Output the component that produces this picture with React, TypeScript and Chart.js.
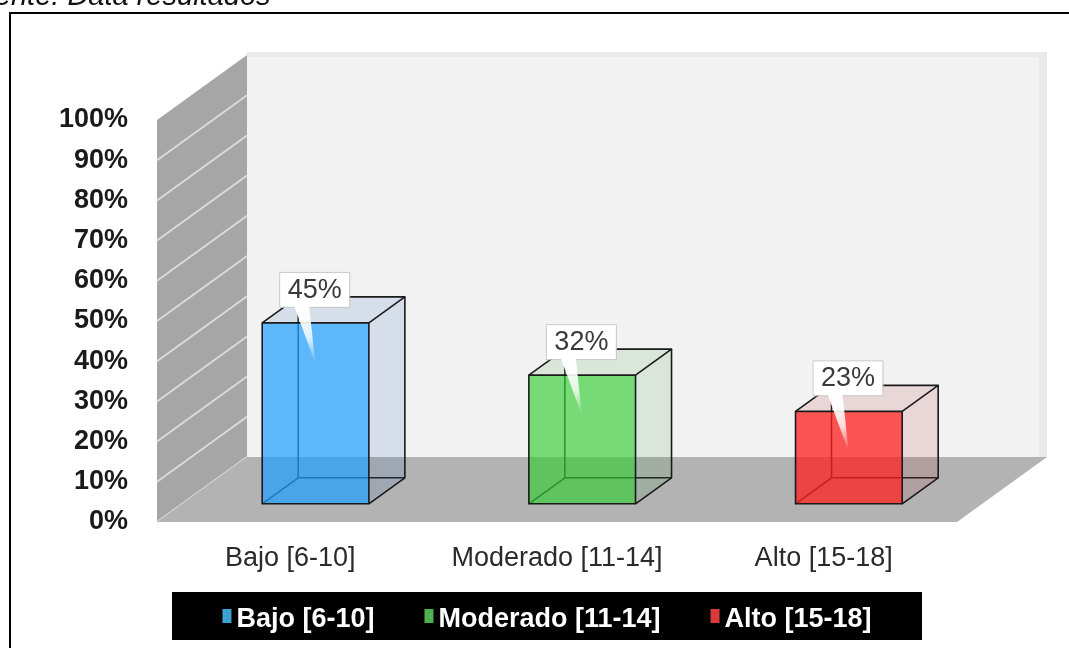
import React, { useEffect, useRef } from "react";
import { Chart, registerables } from "chart.js";

Chart.register(...registerables);

// ---------- data ----------
const categories = ["Bajo [6-10]", "Moderado [11-14]", "Alto [15-18]"];
const values = [45, 32, 23];
const valueLabels = ["45%", "32%", "23%"];
const yMin = 0;
const yMax = 100;
const yStep = 10;
const tickSuffix = "%";
const sourceNote = "Fuente: Data resultados";

// ---------- styles ----------
const frontColors = ["rgba(30,160,255,0.7)", "rgba(50,205,50,0.65)", "rgba(255,30,30,0.75)"];
const sideColors = ["rgba(30,100,180,0.13)", "rgba(40,140,40,0.11)", "rgba(180,40,40,0.13)"];
const legendColors = ["#3aa6cf", "#4caf50", "#d63a3a"];
const FONT = "'Liberation Sans', Arial, sans-serif";

const DEPTH_DX = 90;
const DEPTH_DY = -65;
const BAR_F1 = 0.28;
const BAR_F2 = 0.68;

const threeDPlugin = {
  id: "threeD",
  beforeDraw(chart: any) {
    const ctx = chart.ctx;
    const ca = chart.chartArea;
    const ys = chart.scales.y;
    ctx.save();
    ctx.fillStyle = "#ffffff";
    ctx.fillRect(0, 0, chart.width, chart.height);
    // source note
    ctx.fillStyle = "#111";
    ctx.font = `italic 29px ${FONT}`;
    ctx.textBaseline = "alphabetic";
    ctx.textAlign = "left";
    ctx.fillText(sourceNote, -39, 5);
    // frame
    ctx.strokeStyle = "#000";
    ctx.lineWidth = 2;
    ctx.beginPath();
    ctx.moveTo(10, chart.height + 5);
    ctx.lineTo(10, 13);
    ctx.lineTo(chart.width + 5, 13);
    ctx.stroke();

    const L = ca.left, R = ca.right, T = ca.top, B = ca.bottom;
    const dx = DEPTH_DX, dy = DEPTH_DY;
    // back wall
    ctx.fillStyle = "#f2f2f2";
    ctx.fillRect(L + dx, T + dy - 3, R - L, B - T + 3);
    ctx.fillStyle = "#eaeaea";
    ctx.fillRect(L + dx, T + dy - 3, R - L, 5);
    ctx.fillRect(R + dx - 8, T + dy - 3, 8, B - T + 3);
    // left wall
    ctx.fillStyle = "#a6a6a6";
    ctx.beginPath();
    ctx.moveTo(L, B);
    ctx.lineTo(L, T);
    ctx.lineTo(L + dx, T + dy);
    ctx.lineTo(L + dx, B + dy);
    ctx.closePath();
    ctx.fill();
    // wall gridlines
    ctx.strokeStyle = "#dcdcdc";
    ctx.lineWidth = 1.8;
    for (let v = yMin; v < yMax; v += yStep) {
      const py = ys.getPixelForValue(v);
      ctx.beginPath();
      ctx.moveTo(L, py);
      ctx.lineTo(L + dx, py + dy);
      ctx.stroke();
    }
    // floor
    ctx.fillStyle = "#b3b3b3";
    ctx.beginPath();
    ctx.moveTo(L, B);
    ctx.lineTo(L + dx, B + dy);
    ctx.lineTo(R + dx, B + dy);
    ctx.lineTo(R, B);
    ctx.closePath();
    ctx.fill();
    ctx.restore();
  },
  afterDatasetsDraw(chart: any) {
    const ctx = chart.ctx;
    const meta = chart.getDatasetMeta(0);
    const ox1 = DEPTH_DX * BAR_F1, oy1 = DEPTH_DY * BAR_F1;
    const odx = DEPTH_DX * (BAR_F2 - BAR_F1), ody = DEPTH_DY * (BAR_F2 - BAR_F1);
    ctx.save();
    ctx.lineJoin = "round";
    meta.data.forEach((el: any, i: number) => {
      const p = el.getProps(["x", "y", "base", "width"], true);
      const L = p.x - p.width / 2 + ox1;
      const R = L + p.width;
      const T = p.y + oy1;
      const B = p.base + oy1;
      const Lb = L + odx, Rb = R + odx, Tb = T + ody, Bb = B + ody;
      const line = (pts: number[][]) => {
        ctx.beginPath();
        ctx.moveTo(pts[0][0], pts[0][1]);
        for (let k = 1; k < pts.length; k++) ctx.lineTo(pts[k][0], pts[k][1]);
        ctx.stroke();
      };
      const poly = (pts: number[][], fill: string) => {
        ctx.beginPath();
        ctx.moveTo(pts[0][0], pts[0][1]);
        for (let k = 1; k < pts.length; k++) ctx.lineTo(pts[k][0], pts[k][1]);
        ctx.closePath();
        ctx.fillStyle = fill;
        ctx.fill();
      };
      // hidden edges
      ctx.strokeStyle = "#1f1f1f";
      ctx.lineWidth = 1.5;
      line([[Lb, Tb], [Lb, Bb], [Rb, Bb]]);
      line([[L, B], [Lb, Bb]]);
      // faces
      poly([[L, T], [R, T], [R, B], [L, B]], frontColors[i]);
      poly([[R, T], [Rb, Tb], [Rb, Bb], [R, B]], sideColors[i]);
      poly([[L, T], [Lb, Tb], [Rb, Tb], [R, T]], sideColors[i]);
      // visible edges
      ctx.strokeStyle = "#1a1a1a";
      ctx.lineWidth = 1.6;
      ctx.strokeRect(L, T, R - L, B - T);
      line([[L, T], [Lb, Tb], [Rb, Tb], [R, T]]);
      line([[Rb, Tb], [Rb, Bb], [R, B]]);

      // callout
      ctx.font = `27px ${FONT}`;
      const txt = valueLabels[i];
      const tw = ctx.measureText(txt).width;
      const bw = tw + 16, bh = 35;
      const bx = L + 17, by = T - 51;
      ctx.fillStyle = "#ffffff";
      ctx.fillRect(bx, by, bw, bh);
      ctx.strokeStyle = "#c8c8c8";
      ctx.lineWidth = 1;
      ctx.strokeRect(bx + 0.5, by + 0.5, bw, bh);
      const tipX = L + 53, tipY = T + 40;
      const g = ctx.createLinearGradient(bx + 22, by + bh, tipX, tipY);
      g.addColorStop(0, "rgba(255,255,255,1)");
      g.addColorStop(0.55, "rgba(255,255,255,0.8)");
      g.addColorStop(1, "rgba(255,255,255,0)");
      ctx.beginPath();
      ctx.moveTo(bx + 15, by + bh - 1);
      ctx.lineTo(bx + 30, by + bh - 1);
      ctx.lineTo(tipX, tipY);
      ctx.closePath();
      ctx.fillStyle = g;
      ctx.fill();
      ctx.fillStyle = "#3a3a3a";
      ctx.textAlign = "center";
      ctx.textBaseline = "middle";
      ctx.fillText(txt, bx + bw / 2 + 0.5, by + bh / 2 + 1);
    });
    ctx.restore();
  },
  afterDraw(chart: any) {
    const ctx = chart.ctx;
    ctx.save();
    // legend
    const lx = 172, ly = 592, lw = 750, lh = 48;
    ctx.fillStyle = "#000";
    ctx.fillRect(lx, ly, lw, lh);
    ctx.font = `bold 27px ${FONT}`;
    ctx.textBaseline = "alphabetic";
    ctx.textAlign = "left";
    const mW = 9, gap1 = 5, gap2 = 50;
    const widths = categories.map((c) => ctx.measureText(c).width);
    const total = widths.reduce((s, w) => s + w + mW + gap1, 0) + gap2 * (categories.length - 1);
    let x = lx + lw / 2 - total / 2;
    categories.forEach((c, i) => {
      ctx.fillStyle = legendColors[i];
      ctx.fillRect(x, 609, mW, 14);
      ctx.fillStyle = "#ffffff";
      ctx.fillText(c, x + mW + gap1, 627);
      x += mW + gap1 + widths[i] + gap2;
    });
    ctx.restore();
  },
};

export default function App() {
  const ref = useRef<HTMLCanvasElement | null>(null);
  useEffect(() => {
    if (!ref.current) return;
    const chart = new Chart(ref.current, {
      type: "bar",
      data: {
        labels: categories,
        datasets: [
          {
            data: values,
            backgroundColor: "rgba(0,0,0,0)",
            borderWidth: 0,
            categoryPercentage: 1,
            barPercentage: 0.4,
          },
        ],
      },
      options: {
        animation: false,
        responsive: true,
        maintainAspectRatio: false,
        devicePixelRatio: 1,
        layout: { padding: { top: 120, right: 112, bottom: 0, left: 0 } },
        plugins: { legend: { display: false }, tooltip: { enabled: false } },
        scales: {
          x: {
            type: "category",
            grid: { display: false, drawTicks: false },
            border: { display: false },
            ticks: {
              color: "#2a2a2a",
              font: { family: FONT, size: 27 },
              padding: 20,
              maxRotation: 0,
              autoSkip: false,
            },
            afterFit(scale: any) {
              scale.height = 126;
            },
          },
          y: {
            min: yMin,
            max: yMax,
            grid: { display: false, drawTicks: false },
            border: { display: false },
            ticks: {
              stepSize: yStep,
              color: "#1a1a1a",
              font: { family: FONT, size: 27, weight: "bold" },
              padding: 29,
              callback: (v: any) => `${v}${tickSuffix}`,
            },
            afterFit(scale: any) {
              scale.width = 157;
            },
          },
        },
      },
      plugins: [threeDPlugin],
    } as any);
    return () => chart.destroy();
  }, []);
  return (
    <div style={{ position: "fixed", left: 0, top: 0, width: 1069, height: 648 }}>
      <canvas ref={ref} />
    </div>
  );
}
